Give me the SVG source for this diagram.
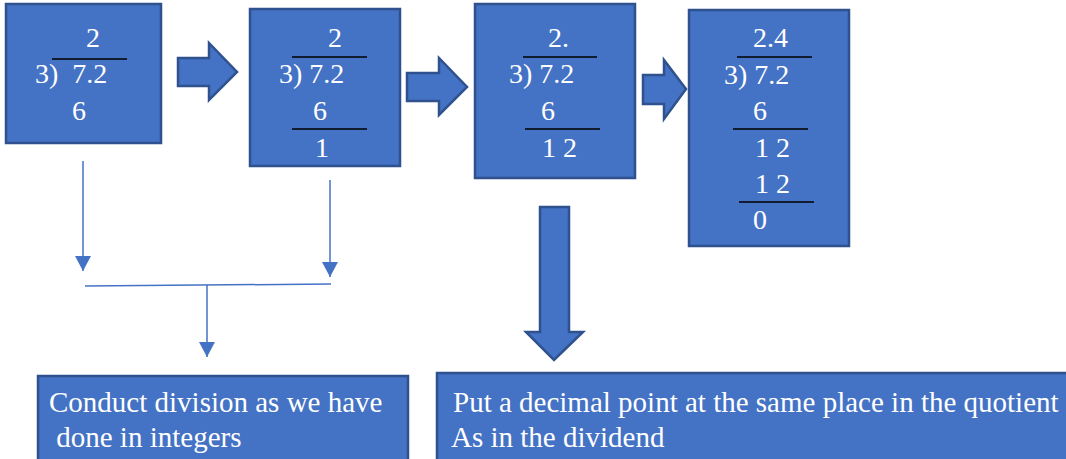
<svg xmlns="http://www.w3.org/2000/svg" width="1066" height="459" viewBox="0 0 1066 459">
<style>
.box{fill:#4472C4;stroke:#2F528F;stroke-width:2.5}
.blk{fill:#4472C4;stroke:#2F528F;stroke-width:2.5;stroke-linejoin:miter}
.t{font-family:"Liberation Serif","Times New Roman",serif;font-size:28px;fill:#FFFFFF}
.tb{font-family:"Liberation Serif","Times New Roman",serif;font-size:29px;fill:#FFFFFF}
.div{stroke:#000000;stroke-width:1.6}
.con{stroke:#4472C4;stroke-width:1.5;fill:none}
</style>
<defs>
<marker id="ah" markerUnits="userSpaceOnUse" markerWidth="18" markerHeight="18" refX="15" refY="8" orient="auto">
<path d="M0,0 L15,8 L0,16 Z" fill="#4472C4"/>
</marker>
</defs>
<g id="box1">
<rect class="box" x="6" y="4" width="155" height="139"/>
<text class="t" x="86" y="47">2</text>
<line class="div" x1="52" y1="59" x2="127" y2="59"/>
<text class="t" x="35" y="83" xml:space="preserve">3)  7.2</text>
<text class="t" x="72" y="120">6</text>
</g>
<g id="box2">
<rect class="box" x="250" y="9" width="150" height="157"/>
<text class="t" x="328" y="47">2</text>
<line class="div" x1="292" y1="57" x2="367" y2="57"/>
<text class="t" x="279" y="83">3) 7.2</text>
<text class="t" x="313" y="120">6</text>
<line class="div" x1="292" y1="129" x2="367" y2="129"/>
<text class="t" x="315" y="157">1</text>
</g>
<g id="box3">
<rect class="box" x="475" y="4" width="160" height="174"/>
<text class="t" x="548" y="47">2.</text>
<line class="div" x1="523" y1="57" x2="597" y2="57"/>
<text class="t" x="509" y="83">3) 7.2</text>
<text class="t" x="541" y="120">6</text>
<line class="div" x1="525" y1="129" x2="600" y2="129"/>
<text class="t" x="542" y="157">1 2</text>
</g>
<g id="box4">
<rect class="box" x="689" y="10" width="160" height="236"/>
<text class="t" x="753" y="47">2.4</text>
<line class="div" x1="737" y1="57" x2="812" y2="57"/>
<text class="t" x="724" y="84">3) 7.2</text>
<text class="t" x="753" y="120">6</text>
<line class="div" x1="733" y1="129" x2="808" y2="129"/>
<text class="t" x="755" y="157">1 2</text>
<text class="t" x="755" y="193">1 2</text>
<line class="div" x1="739" y1="202" x2="814" y2="202"/>
<text class="t" x="753" y="229">0</text>
</g>
<g id="box5">
<rect class="box" x="38" y="376" width="370" height="95"/>
<text class="tb" x="49" y="412">Conduct division as we have</text>
<text class="tb" x="49" y="447" xml:space="preserve"> done in integers</text>
</g>
<g id="box6">
<rect class="box" x="437" y="373" width="640" height="98"/>
<text class="tb" x="453" y="412">Put a decimal point at the same place in the quotient</text>
<text class="tb" x="451" y="447">As in the dividend</text>
</g>
<g id="connectors">
<path class="blk" d="M178,58 L209,58 L209,43 L237,72 L209,100 L209,86 L178,86 Z"/>
<path class="blk" d="M407,73 L439,73 L439,58 L467,87 L439,115 L439,101 L407,101 Z"/>
<path class="blk" d="M643,75 L664,75 L664,60 L686,89 L664,119 L664,104 L643,104 Z"/>
<path class="blk" d="M540,207 L569,207 L569,332 L583,332 L554,360 L526,332 L540,332 Z"/>
<line class="con" x1="83" y1="161" x2="83" y2="271" marker-end="url(#ah)"/>
<line class="con" x1="330" y1="180" x2="330" y2="277" marker-end="url(#ah)"/>
<line class="con" x1="85" y1="286" x2="331" y2="284"/>
<line class="con" x1="207" y1="285" x2="207" y2="357" marker-end="url(#ah)"/>
</g>
</svg>
